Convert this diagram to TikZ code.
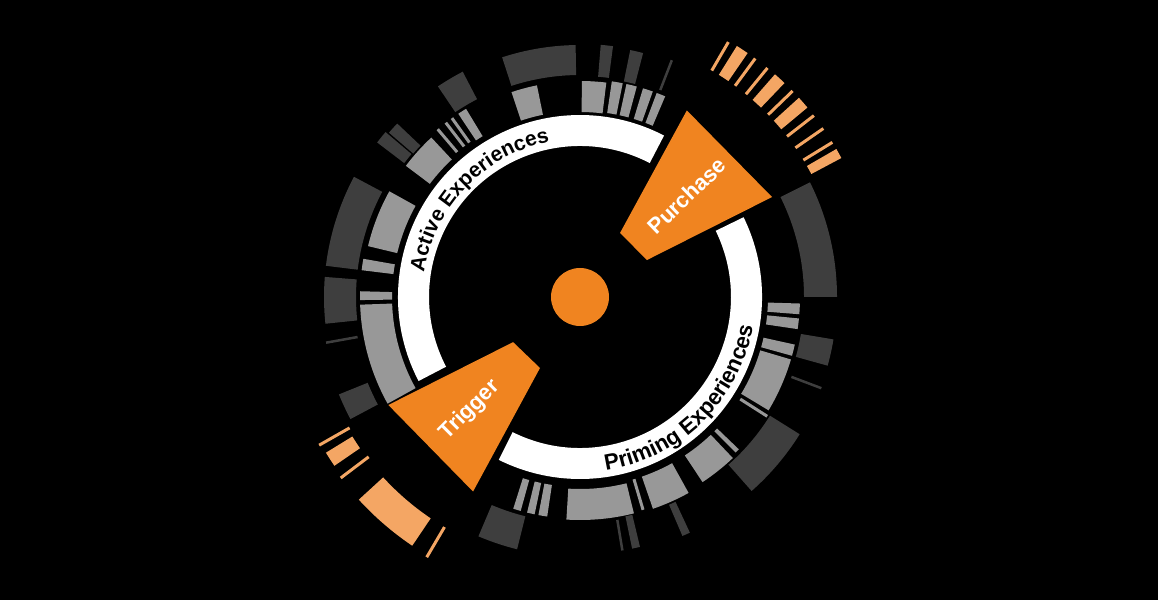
\documentclass[tikz,border=0pt]{standalone}
\usepackage{fontspec}
\setmainfont{Liberation Sans}
\usetikzlibrary{decorations.text}
\definecolor{dgray}{RGB}{62,62,62}
\definecolor{lgray}{RGB}{152,152,152}
\definecolor{org}{RGB}{240,132,32}
\definecolor{lorg}{RGB}{244,166,100}
\newcommand\ringseg[5]{\fill[#1] (#2:#4pt) arc[start angle=#2,end angle=#3,radius=#4pt] -- (#3:#5pt) arc[start angle=#3,end angle=#2,radius=#5pt] -- cycle;}
\newcommand\rayline[4]{\draw[#1] (#2:#3pt) -- (#2:#4pt);}
\newcommand\ringfont{\fontsize{21pt}{25pt}\selectfont\bfseries}
\newcommand\ringfontb{\fontsize{22.3pt}{26pt}\selectfont\bfseries}
\newcommand\wedgefont{\fontsize{22pt}{26pt}\selectfont\bfseries}
\tikzset{
  thindark/.style={dgray, line width=2.5pt},
  thinlight/.style={lgray, line width=3pt},
  thinorange/.style={lorg, line width=3pt},
  wedgelabel/.style={font=\wedgefont, text=white, inner sep=0pt}
}
\begin{document}
\begin{tikzpicture}[x=1pt,y=1pt]
\fill[black] (0,0) rectangle (1158,600);
\begin{scope}[shift={(580pt,303pt)}]
% white ring
\ringseg{white}{62.5}{207.5}{151}{182}
\ringseg{white}{243.5}{386}{151}{182}
% outer ring (dark)
\ringseg{dgray}{0}{26.5}{224}{257}
\ringseg{dgray}{-9.5}{-15.5}{224}{257}
\rayline{thindark}{-20.7}{226}{258}
\ringseg{dgray}{-32}{-48.5}{224}{259}
\ringseg{dgray}{-65}{-66.8}{226}{260}
\ringseg{dgray}{-76.5}{-78.3}{224}{257}
\rayline{thindark}{-80.5}{226}{257}
\ringseg{dgray}{-104}{-113}{226}{260}
\ringseg{dgray}{202}{208}{229}{260}
\rayline{thindark}{190.2}{226}{258}
\ringseg{dgray}{175.5}{186}{224}{256}
\ringseg{dgray}{152}{173}{224}{256}
\ringseg{dgray}{139.7}{142.7}{221}{255}
\ringseg{dgray}{136.5}{139.3}{220}{252}
\ringseg{dgray}{117.5}{124}{223}{254}
\ringseg{dgray}{91}{108}{222}{252}
\ringseg{dgray}{82.5}{85.3}{221}{253}
\ringseg{dgray}{75.5}{78.5}{220}{252}
\rayline{thindark}{68.8}{222}{254}
% inner ring (light)
\ringseg{lgray}{-1.7}{-4.5}{188}{220}
\ringseg{lgray}{-5.6}{-8.4}{188}{220}
\ringseg{lgray}{-12.5}{-15.5}{188}{220}
\ringseg{lgray}{-16.5}{-31}{188}{220}
\rayline{thinlight}{-32.5}{190}{222}
\ringseg{lgray}{-43.8}{-45}{190}{220}
\ringseg{lgray}{-46.5}{-56.5}{190}{222}
\ringseg{lgray}{-61}{-71}{190}{224}
\rayline{thinlight}{-73.5}{190}{222}
\ringseg{lgray}{-76}{-93.5}{192}{223}
\ringseg{lgray}{-98.5}{-100.8}{190}{222}
\ringseg{lgray}{-101.8}{-103.8}{190}{222}
\ringseg{lgray}{-105.5}{-107.5}{190}{222}
\ringseg{lgray}{182}{209}{188}{220}
\ringseg{lgray}{178.5}{180.8}{188}{220}
\ringseg{lgray}{170}{173}{188}{220}
\ringseg{lgray}{151}{166.5}{188}{218}
\ringseg{lgray}{133}{143}{188}{218}
\rayline{thinlight}{130.3}{190}{220}
\rayline{thinlight}{127.6}{190}{220}
\rayline{thinlight}{125.6}{190}{220}
\ringseg{lgray}{121.2}{123.6}{188}{220}
\ringseg{lgray}{101.5}{108.5}{186}{216}
\ringseg{lgray}{83}{89.5}{185}{216}
\ringseg{lgray}{78.7}{81.6}{186}{218}
\ringseg{lgray}{74.9}{77.7}{186}{218}
\ringseg{lgray}{70.5}{73.2}{186}{218}
\ringseg{lgray}{67}{69.4}{186}{218}
% far outer ring (light orange)
\rayline{thinorange}{59.8}{262}{295}
\ringseg{lorg}{55.5}{58}{262}{296}
\rayline{thinorange}{53.7}{262}{296}
\rayline{thinorange}{50.7}{262}{296}
\ringseg{lorg}{46.3}{48.8}{262}{296}
\rayline{thinorange}{44.1}{262}{296}
\ringseg{lorg}{39.8}{42.3}{262}{296}
\rayline{thinorange}{37.8}{262}{296}
\rayline{thinorange}{34.7}{262}{296}
\rayline{thinorange}{31.5}{262}{296}
\ringseg{lorg}{28}{30}{262}{296}
\rayline{thinorange}{-120.5}{267}{302}
\ringseg{lorg}{-124}{-137.5}{267}{300}
\rayline{thinorange}{-142.9}{265}{300}
\ringseg{lorg}{-145.5}{-148.5}{267}{298}
\rayline{thinorange}{-150.4}{265}{300}
% wedges
\fill[org] (60.2:215pt) -- (27.5:216.5pt) -- (28.9:76.5pt) -- (58:75.5pt) -- cycle;
\fill[org] (209.4:220pt) -- (241.2:222pt) -- (240.6:81.5pt) -- (214:80.7pt) -- cycle;
% centre
\node[circle, fill=org, minimum size=58pt, inner sep=0pt] (core) at (0,0) {};
% labels
\node[wedgelabel, rotate=44] (purchase) at (43.5:147pt) {Purchase};
\node[wedgelabel, rotate=45] (trigger) at (225.8:158pt) {Trigger};
\path[decorate, decoration={text along path, text={|\ringfont|Active Experiences}, text align=center}]
  (186:158pt) arc[start angle=186, end angle=86, radius=158pt];
\path[decorate, decoration={text along path, text={|\ringfontb|Priming Experiences}, text align=center}]
  (264.5:175.5pt) arc[start angle=264.5, end angle=364.5, radius=175.5pt];
\end{scope}
\end{tikzpicture}
\end{document}
